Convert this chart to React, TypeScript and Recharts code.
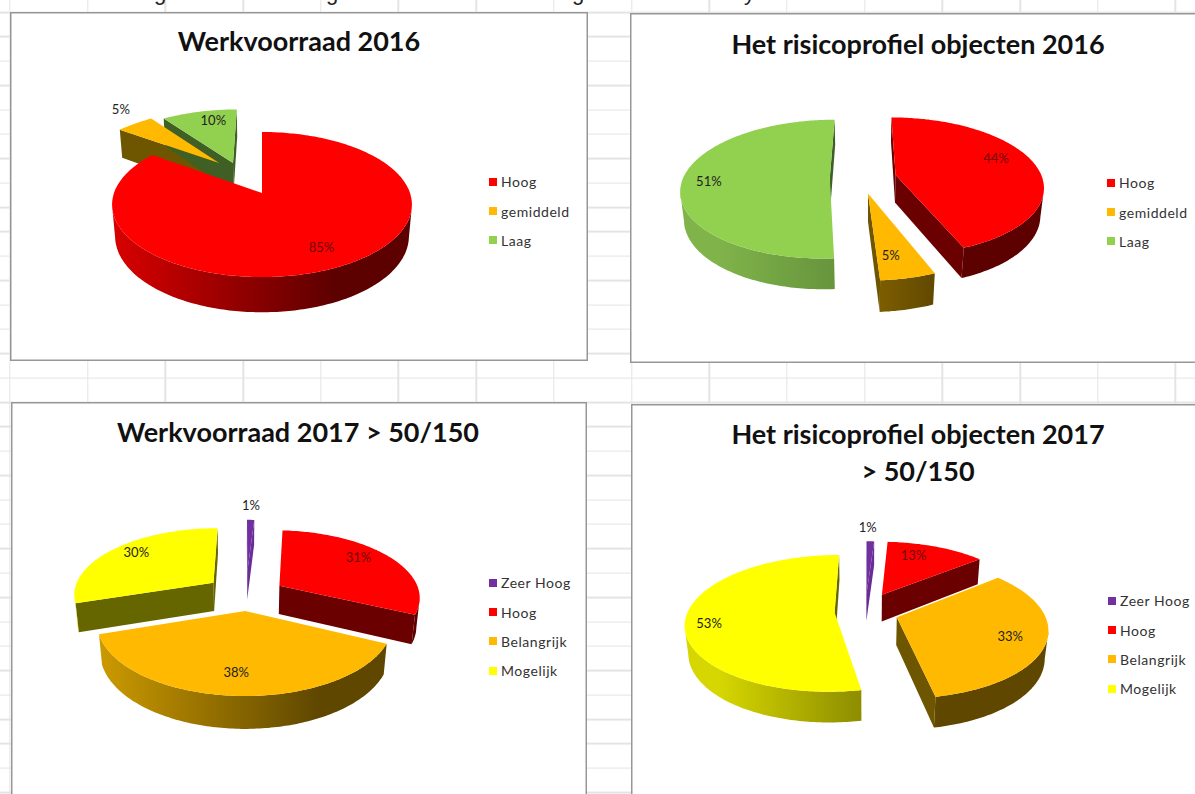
import { Legend, Pie, PieChart } from "recharts";

// values, in percent
const riskCategories = ["Hoog", "gemiddeld", "Laag"];
const workload2016 = [85, 5, 10];
const objects2016 = [44, 5, 51];
const categories2017 = ["Zeer Hoog", "Hoog", "Belangrijk", "Mogelijk"];
const workload2017 = [1, 31, 38, 30];
const objects2017 = [1, 13, 33, 53];

const RED = "#ff0000";
const GOLD = "#ffb900";
const GREEN = "#92d050";
const YELLOW = "#ffff00";
const PURPLE = "#7030a0";

const colors2016 = [RED, GOLD, GREEN];
const colors2017 = [PURPLE, RED, GOLD, YELLOW];

const WALLS: Record<string, { light: string; dark: string; flat: string }> = {
  [RED]: { light: "#d80000", dark: "#5c0000", flat: "#6a0000" },
  [GOLD]: { light: "#cc9a00", dark: "#5f4700", flat: "#6e5500" },
  [GREEN]: { light: "#80b34a", dark: "#4f7a30", flat: "#3f5f24" },
  [YELLOW]: { light: "#d6d600", dark: "#646400", flat: "#666600" },
  [PURPLE]: { light: "#6a2d98", dark: "#6a2d98", flat: "#6a2d98" },
};

type Layout = {
  id: string;
  title: string[];
  titleX: number;
  titleY: number[];
  card: { x: number; y: number; w: number; h: number };
  cx: number;
  cy: number;
  r: number;
  ry: number; // flattened radius of the tilted disc
  k: number; // perspective strength
  depth: number;
  explode: number[][]; // slice offset in disc units
  labels: number[][]; // radius factor, dx, dy
  legendX: number;
  legendY: number;
};

const layout1: Layout = {
  id: "a",
  title: ["Werkvoorraad 2016"],
  titleX: 299,
  titleY: [41],
  card: { x: 10, y: 12, w: 578, h: 349 },
  cx: 262,
  cy: 193,
  r: 148,
  ry: 70.7,
  k: 0.159,
  depth: 32,
  explode: [[0, 0], [-0.311, 0.455], [-0.21, 0.455]],
  labels: [[0.75, 3, 1], [1.2, 1, -8], [0.8, 8, -1]],
  legendX: 489,
  legendY: 167,
};

const layout2: Layout = {
  id: "b",
  title: ["Het risicoprofiel objecten 2016"],
  titleX: 918,
  titleY: [44],
  card: { x: 630, y: 13, w: 570, h: 350 },
  cx: 865,
  cy: 176,
  r: 146,
  ry: 67,
  k: 0.159,
  depth: 28,
  explode: [[0.21, 0.015], [0.02, -0.25], [-0.24, -0.03]],
  labels: [[0.7, 3, -8], [0.75, -6, 1], [0.8, -3, 1]],
  legendX: 1107,
  legendY: 168,
};

const layout3: Layout = {
  id: "c",
  title: ["Werkvoorraad 2017 > 50/150"],
  titleX: 298,
  titleY: [432],
  card: { x: 11, y: 402, w: 576, h: 400 },
  cx: 245,
  cy: 611,
  r: 146,
  ry: 71.5,
  k: 0.159,
  depth: 30,
  explode: [[0.017, 0.6], [0.25, 0.375], [0, 0], [-0.23, 0.42]],
  labels: [[1.1, 0, -10], [0.7, 2, -7], [0.75, -1, 0], [0.7, -6, -6]],
  legendX: 489,
  legendY: 568,
};

const layout4: Layout = {
  id: "d",
  title: ["Het risicoprofiel objecten 2017", "> 50/150"],
  titleX: 918,
  titleY: [434, 471],
  card: { x: 631, y: 404, w: 570, h: 400 },
  cx: 867,
  cy: 612,
  r: 147,
  ry: 66.5,
  k: 0.159,
  depth: 28,
  explode: [[-0.004, 0.28], [0.106, 0.27], [0.2, -0.077], [-0.22, -0.007]],
  labels: [[1.1, -3, -10], [0.7, -8, -5], [0.8, -5, 0], [0.85, 1, 5]],
  legendX: 1108,
  legendY: 586,
};

const RAD = Math.PI / 180;
const LOWER_SHRINK = 0.02;

// perspective projection of a point on the disc; h=1 is the underside
function project(l: Layout, cx: number, cy: number, r: number, u: number, v: number, h: number) {
  const w = 1 + l.k * v + h * LOWER_SHRINK;
  return [cx + (r * u) / w, cy + (-(l.ry * v) + h * l.depth) / w];
}

const toPath = (pts: number[][]) =>
  "M" + pts.map((p) => p[0].toFixed(1) + " " + p[1].toFixed(1)).join("L") + "Z";

function sweep(start: number, end: number) {
  const out: number[] = [];
  const steps = Math.max(2, Math.ceil(Math.abs(end - start)));
  for (let i = 0; i <= steps; i++) out.push(start + ((end - start) * i) / steps);
  return out;
}

function SideFace(props: any, l: Layout) {
  const { cx, cy, outerRadius: r, startAngle, endAngle, fill } = props;
  const idx = props.payload?.idx ?? props.idx;
  const [u0, v0] = l.explode[idx];
  const camV = -1 / l.k;
  const wall = WALLS[fill];
  const gradId = `wall-${l.id}-${idx}`;
  const parts: any[] = [];

  const radial = (a: number, sign: number, key: string) => {
    const c = Math.cos(a * RAD);
    const s = Math.sin(a * RAD);
    const nu = -s * sign;
    const nv = c * sign;
    if (-u0 * nu + (camV - v0) * nv <= 0) return;
    const pts = [
      project(l, cx, cy, r, u0, v0, 0),
      project(l, cx, cy, r, u0 + c, v0 + s, 0),
      project(l, cx, cy, r, u0 + c, v0 + s, 1),
      project(l, cx, cy, r, u0, v0, 1),
    ];
    parts.push(<path key={key} d={toPath(pts)} fill={wall.flat} />);
  };
  radial(startAngle, 1, "s");
  radial(endAngle, -1, "e");

  // outer wall, only the stretches facing the camera
  let run: number[] = [];
  const flush = (key: number) => {
    if (run.length > 1) {
      const top = run.map((a) => project(l, cx, cy, r, u0 + Math.cos(a * RAD), v0 + Math.sin(a * RAD), 0));
      const bottom = run.map((a) => project(l, cx, cy, r, u0 + Math.cos(a * RAD), v0 + Math.sin(a * RAD), 1));
      parts.push(<path key={"o" + key} d={toPath([...top, ...bottom.reverse()])} fill={`url(#${gradId})`} />);
    }
    run = [];
  };
  sweep(startAngle, endAngle).forEach((a, i) => {
    const c = Math.cos(a * RAD);
    const s = Math.sin(a * RAD);
    if (-u0 * c + (camV - v0) * s - 1 > 0) run.push(a);
    else flush(i);
  });
  flush(-1);

  return (
    <g>
      <defs>
        <linearGradient id={gradId} gradientUnits="userSpaceOnUse" x1={cx - r} x2={cx + r * 0.5} y1={0} y2={0}>
          <stop offset="0" stopColor={wall.light} />
          <stop offset="1" stopColor={wall.dark} />
        </linearGradient>
      </defs>
      {parts}
    </g>
  );
}

function TopFace(props: any, l: Layout) {
  const { cx, cy, outerRadius: r, startAngle, endAngle, fill } = props;
  const idx = props.payload?.idx ?? props.idx;
  const [u0, v0] = l.explode[idx];
  const rim = sweep(startAngle, endAngle).map((a) =>
    project(l, cx, cy, r, u0 + Math.cos(a * RAD), v0 + Math.sin(a * RAD), 0)
  );
  return <path d={toPath([project(l, cx, cy, r, u0, v0, 0), ...rim])} fill={fill} />;
}

function SliceLabel(props: any, l: Layout) {
  const { cx, cy, outerRadius: r, midAngle, index, value, fill } = props;
  const [u0, v0] = l.explode[index];
  const [f, dx, dy] = l.labels[index];
  const p = project(l, cx, cy, r, u0 + f * Math.cos(midAngle * RAD), v0 + f * Math.sin(midAngle * RAD), 0);
  return (
    <text
      x={p[0] + dx}
      y={p[1] + dy}
      textAnchor="middle"
      dominantBaseline="central"
      fontFamily="Lato, sans-serif"
      fontSize={13}
      fill={fill === RED ? "#6e0808" : "#222"}
    >
      {value}%
    </text>
  );
}

// the two Pie layers both report legend items, keep one of each in data order
function LegendList({ payload, order }: any) {
  const seen = new Set();
  const items = (payload || [])
    .filter((item: any) => {
      if (seen.has(item.value)) return false;
      seen.add(item.value);
      return true;
    })
    .sort((a: any, b: any) => order.indexOf(a.value) - order.indexOf(b.value));
  return (
    <div>
      {items.map((item: any) => (
        <div key={item.value} style={{ display: "flex", alignItems: "center", height: 29.4, fontFamily: "Lato, sans-serif", fontSize: 14, color: "#333", letterSpacing: 0.55 }}>
          <span style={{ width: 8, height: 8, background: item.color, marginRight: 4 }} />
          {item.value}
        </div>
      ))}
    </div>
  );
}

function Risk3DPie({ layout, names, values, colors }: { layout: Layout; names: string[]; values: number[]; colors: string[] }) {
  const l = layout;
  const rows = names.map((name, idx) => ({ name, value: values[idx], fill: colors[idx], idx }));
  const pieProps = {
    data: rows,
    dataKey: "value",
    nameKey: "name",
    cx: l.cx - l.card.x,
    cy: l.cy - l.card.y,
    outerRadius: l.r,
    startAngle: 90,
    endAngle: -270,
    stroke: "none",
    isAnimationActive: false,
  };
  return (
    <div
      style={{
        position: "absolute",
        left: l.card.x,
        top: l.card.y,
        width: l.card.w,
        height: l.card.h,
        background: "#fff",
        boxShadow: "inset 0 0 0 1.5px #979797",
      }}
    >
      <PieChart width={l.card.w} height={l.card.h} margin={{ top: 0, right: 0, bottom: 0, left: 0 }}>
        <Pie {...pieProps} legendType="none" shape={(p: any) => SideFace(p, l)} />
        <Pie {...pieProps} shape={(p: any) => TopFace(p, l)} labelLine={false} label={(p: any) => SliceLabel(p, l)} />
        <Legend
          layout="vertical"
          content={<LegendList order={names} />}
          wrapperStyle={{ position: "absolute", left: l.legendX - l.card.x, top: l.legendY - l.card.y, width: 110, bottom: "auto" }}
        />
      </PieChart>
      {l.title.map((t, i) => (
        <div
          key={t}
          style={{
            position: "absolute",
            left: l.titleX - l.card.x - 250,
            width: 500,
            top: l.titleY[i] - l.card.y - 16,
            height: 32,
            lineHeight: "32px",
            textAlign: "center",
            fontFamily: "Lato, sans-serif",
            fontWeight: 700,
            fontSize: 27,
            color: "#111",
            whiteSpace: "nowrap",
          }}
        >
          {t}
        </div>
      ))}
    </div>
  );
}

const GRID = "#e4e4e4";

export default function App() {
  return (
    <div
      style={{
        position: "absolute",
        left: 0,
        top: 0,
        width: 1195,
        height: 794,
        overflow: "hidden",
        backgroundColor: "#fff",
        backgroundImage: `repeating-linear-gradient(to bottom, ${GRID} 0 1.5px, transparent 1.5px 24.38px), repeating-linear-gradient(to right, ${GRID} 0 1.5px, transparent 1.5px 77.7px)`,
        backgroundPosition: "0 11.6px, 9.3px 0",
      }}
    >
      {[160, 332, 578, 750].map((x, i) => (
        <span
          key={x}
          style={{ position: "absolute", left: x - 6, top: -20, fontFamily: "Liberation Sans, sans-serif", fontSize: 22, color: "#222" }}
        >
          {i === 3 ? "y" : "g"}
        </span>
      ))}
      <Risk3DPie layout={layout1} names={riskCategories} values={workload2016} colors={colors2016} />
      <Risk3DPie layout={layout2} names={riskCategories} values={objects2016} colors={colors2016} />
      <Risk3DPie layout={layout3} names={categories2017} values={workload2017} colors={colors2017} />
      <Risk3DPie layout={layout4} names={categories2017} values={objects2017} colors={colors2017} />
    </div>
  );
}
